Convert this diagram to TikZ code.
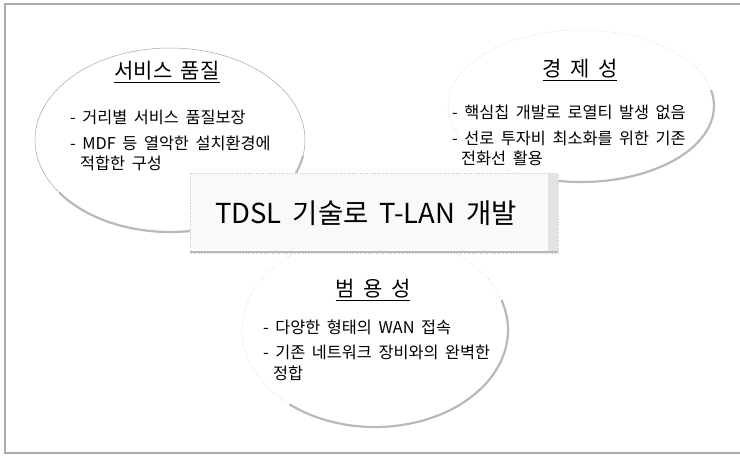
\documentclass[tikz,border=0pt]{standalone}
\usepackage{fontspec}
\setmainfont[WordSpace=1.8]{Noto Sans CJK KR}
\begin{document}
\begin{tikzpicture}[x=1pt,y=1pt,
  thinell/.style={draw=gray!70,line width=0.5pt,fill=white},
  thinelldot/.style={draw=gray!55,line width=0.5pt,dotted,fill=white},
  shadowarc/.style={draw=gray!55,line width=2.2pt},
  frameline/.style={draw=gray!65,line width=1.2pt},
  title/.style={inner sep=0pt,font=\fontsize{21}{21}\selectfont,anchor=center},
  item/.style={inner sep=0pt,font=\fontsize{16.3}{16.3}\selectfont,anchor=west},
  mainbox/.style={draw=gray!45,dotted,line width=0.6pt,fill=gray!5},
  maintext/.style={inner sep=0pt,font=\fontsize{27.5}{27.5}\selectfont}]
\useasboundingbox (0,0) rectangle (740,456);
% frame
\draw[frameline] (741,452) -- (5,452) -- (5,3) -- (741,3);
% left ellipse
\path[thinell] (170,316) ellipse [x radius=135, y radius=92];
\draw[shadowarc] (170,316) ++(215:135 and 92) arc[start angle=215, end angle=350, x radius=135, y radius=92];
% right ellipse
\path[thinelldot] (581,350) ellipse [x radius=133, y radius=76];
\draw[shadowarc] (581,350) ++(250:133 and 76) arc[start angle=250, end angle=372, x radius=133, y radius=76];
% bottom ellipse
\path[thinelldot] (375,126) ellipse [x radius=133, y radius=97];
\draw[shadowarc] (375,126) ++(230:133 and 97) arc[start angle=230, end angle=378, x radius=133, y radius=97];
% central box
\path[mainbox] (190,203) rectangle (558,283);
\fill[gray!22] (548,205) rectangle (558,283);
\draw[draw=gray!55,line width=2.5pt] (190,204) -- (558,204);
\node[maintext] (main) at (366,243) {TDSL 기술로 T-LAN 개발};
% left texts
\node[title] (t1) at (167,384) {\underline{서비스 품질}};
\node[item] (a1) at (70,339) {- 거리별 서비스 품질보장};
\node[item] (a2) at (70,313) {- MDF 등 열악한 설치환경에};
\node[item] (a3) at (80,293) {적합한 구성};
% right texts
\node[title] (t2) at (580,386) {\underline{경 제 성}};
\node[item] (b1) at (452,344) {- 핵심칩 개발로 로열티 발생 없음};
\node[item] (b2) at (452,318) {- 선로 투자비 최소화를 위한 기존};
\node[item] (b3) at (461,298) {전화선 활용};
% bottom texts
\node[title] (t3) at (373,166) {\underline{범 용 성}};
\node[item] (c1) at (263,129) {- 다양한 형태의 WAN 접속};
\node[item] (c2) at (263,104) {- 기존 네트워크 장비와의 완벽한};
\node[item] (c3) at (273,83) {정합};
\end{tikzpicture}
\end{document}
